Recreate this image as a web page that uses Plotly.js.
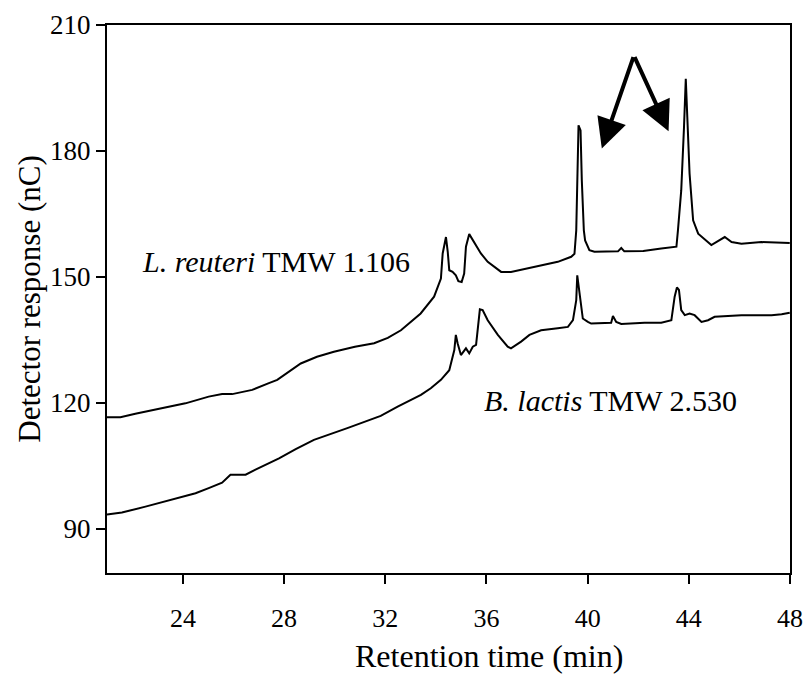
<!DOCTYPE html>
<html>
<head>
<meta charset="utf-8">
<script src="https://cdn.plot.ly/plotly-3.0.1.min.js"></script>
<style>html,body{margin:0;padding:0;background:#fff;}#chart{width:806px;height:677px;}</style>
</head>
<body>
<div id="chart"></div>
<script>
// Retention time (min) and detector response (nC)
const reuteriTime = [21.0, 21.53, 22.12, 23.18, 24.1, 25.02, 25.55, 25.95, 26.74, 27.4, 27.73, 28.66, 29.3, 29.97, 30.8, 31.56, 32.1, 32.62, 33.4, 33.93, 34.2, 34.27, 34.4, 34.47, 34.53, 34.66, 34.79, 34.89, 35.02, 35.12, 35.19, 35.32, 35.46, 35.78, 36.05, 36.58, 36.97, 37.9, 38.82, 39.35, 39.48, 39.55, 39.59, 39.64, 39.72, 39.77, 39.85, 39.9, 40.07, 40.27, 41.2, 41.33, 41.45, 42.2, 42.91, 43.51, 43.57, 43.7, 43.81, 43.88, 43.94, 44.03, 44.17, 44.37, 44.89, 45.42, 45.69, 46.08, 46.87, 47.99];
const reuteriResp = [116.6, 116.6, 117.4, 118.7, 119.9, 121.5, 122.1, 122.1, 123.1, 124.7, 125.5, 129.4, 131.0, 132.2, 133.4, 134.2, 135.5, 137.3, 141.3, 145.3, 149.6, 155.6, 159.5, 156.0, 151.6, 151.2, 150.4, 149.0, 148.8, 150.8, 157.2, 160.2, 158.8, 155.6, 153.6, 151.2, 151.2, 152.4, 153.6, 154.8, 155.5, 161.1, 177.0, 186.1, 184.9, 173.0, 161.1, 158.7, 156.4, 156.0, 156.1, 156.9, 156.1, 156.2, 156.8, 157.2, 161.1, 170.6, 185.7, 197.2, 188.1, 174.6, 163.5, 160.3, 157.6, 159.5, 158.3, 157.9, 158.3, 158.1];

const lactisTime = [21.0, 21.59, 22.52, 23.44, 24.5, 25.02, 25.55, 25.88, 26.48, 26.87, 27.8, 28.46, 29.18, 30.5, 31.82, 32.49, 33.41, 33.8, 34.2, 34.53, 34.73, 34.79, 34.86, 34.99, 35.19, 35.32, 35.46, 35.59, 35.65, 35.74, 35.85, 36.05, 36.45, 36.84, 36.97, 37.37, 37.7, 38.16, 38.82, 39.22, 39.42, 39.55, 39.59, 39.68, 39.81, 40.01, 40.14, 40.93, 41.0, 41.13, 41.33, 42.25, 42.91, 43.31, 43.44, 43.53, 43.61, 43.7, 43.84, 44.03, 44.23, 44.5, 44.76, 45.02, 45.82, 46.08, 47.27, 47.67, 47.99];
const lactisResp = [93.4, 93.9, 95.3, 96.8, 98.5, 99.7, 101.0, 102.9, 102.9, 104.1, 106.8, 109.0, 111.2, 114.0, 116.9, 119.1, 121.9, 123.5, 125.5, 127.8, 132.6, 136.2, 134.2, 131.4, 133.0, 131.8, 133.4, 133.8, 137.3, 142.3, 142.1, 139.7, 136.2, 133.4, 133.0, 134.6, 136.2, 137.3, 137.8, 138.1, 139.7, 144.5, 150.4, 146.5, 140.1, 139.3, 138.9, 139.1, 140.7, 139.3, 138.8, 139.1, 139.1, 139.7, 145.3, 147.5, 146.9, 142.1, 140.9, 141.3, 140.9, 139.3, 139.7, 140.5, 140.7, 140.9, 140.9, 141.1, 141.5];

const xTicks = [24, 28, 32, 36, 40, 44, 48];
const yTicks = [90, 120, 150, 180, 210];

// Series labels and arrow (tip -> shared apex) positions in data units
const labelReuteri = {x: 27.7, y: 153.8};
const labelLactis = {x: 40.9, y: 120.6};
const arrowApex = {x: 41.83, y: 202.7};
const arrowTips = [{x: 40.56, y: 180.6}, {x: 43.2, y: 184.7}];

const FONT = 'Liberation Serif, Times New Roman, serif';

const traces = [
  {x: reuteriTime, y: reuteriResp, type: 'scatter', mode: 'lines', name: 'L. reuteri TMW 1.106',
   line: {color: '#000', width: 2}, hoverinfo: 'x+y'},
  {x: lactisTime, y: lactisResp, type: 'scatter', mode: 'lines', name: 'B. lactis TMW 2.530',
   line: {color: '#000', width: 2}, hoverinfo: 'x+y'}
];

const annotations = [
  {x: labelReuteri.x, y: labelReuteri.y, xref: 'x', yref: 'y', showarrow: false,
   text: '<i>L. reuteri</i> TMW 1.106', font: {family: FONT, size: 30, color: '#000'},
   xanchor: 'center', yanchor: 'middle'},
  {x: labelLactis.x, y: labelLactis.y, xref: 'x', yref: 'y', showarrow: false,
   text: '<i>B. lactis</i> TMW 2.530', font: {family: FONT, size: 30, color: '#000'},
   xanchor: 'center', yanchor: 'middle'},
  {x: 0.5595, y: -0.152, xref: 'paper', yref: 'paper', showarrow: false,
   text: 'Retention time (min)', font: {family: FONT, size: 32, color: '#000'},
   xanchor: 'center', yanchor: 'middle'}
];
arrowTips.forEach(t => annotations.push({
  x: t.x, y: t.y, xref: 'x', yref: 'y', ax: arrowApex.x, ay: arrowApex.y, axref: 'x', ayref: 'y',
  text: '', showarrow: true, arrowhead: 2, arrowsize: 1.5, arrowwidth: 4, arrowcolor: '#000', standoff: 0
}));

const layout = {
  width: 806, height: 677,
  margin: {l: 107, r: 16, t: 25, b: 104, pad: 0},
  paper_bgcolor: '#fff', plot_bgcolor: '#fff',
  showlegend: false,
  font: {family: FONT, color: '#000'},
  xaxis: {
    range: [21, 48], tickvals: xTicks, ticktext: xTicks.map(String),
    showgrid: false, zeroline: false, showline: true, linecolor: '#000', linewidth: 2, mirror: true,
    ticks: 'outside', ticklen: 9, tickwidth: 2, tickcolor: '#000',
    tickfont: {family: FONT, size: 26, color: '#000'}, ticklabelstandoff: 12,
    title: {text: ''}
  },
  yaxis: {
    range: [79.5, 210], tickvals: yTicks, ticktext: yTicks.map(String),
    showgrid: false, zeroline: false, showline: true, linecolor: '#000', linewidth: 2, mirror: true,
    ticks: 'outside', ticklen: 9, tickwidth: 2, tickcolor: '#000',
    tickfont: {family: FONT, size: 27, color: '#000'},
    title: {text: 'Detector response (nC)', font: {family: FONT, size: 31, color: '#000'}, standoff: 0}
  },
  annotations: annotations
};

Plotly.newPlot('chart', traces, layout, {displayModeBar: false, staticPlot: true});
</script>
</body>
</html>
